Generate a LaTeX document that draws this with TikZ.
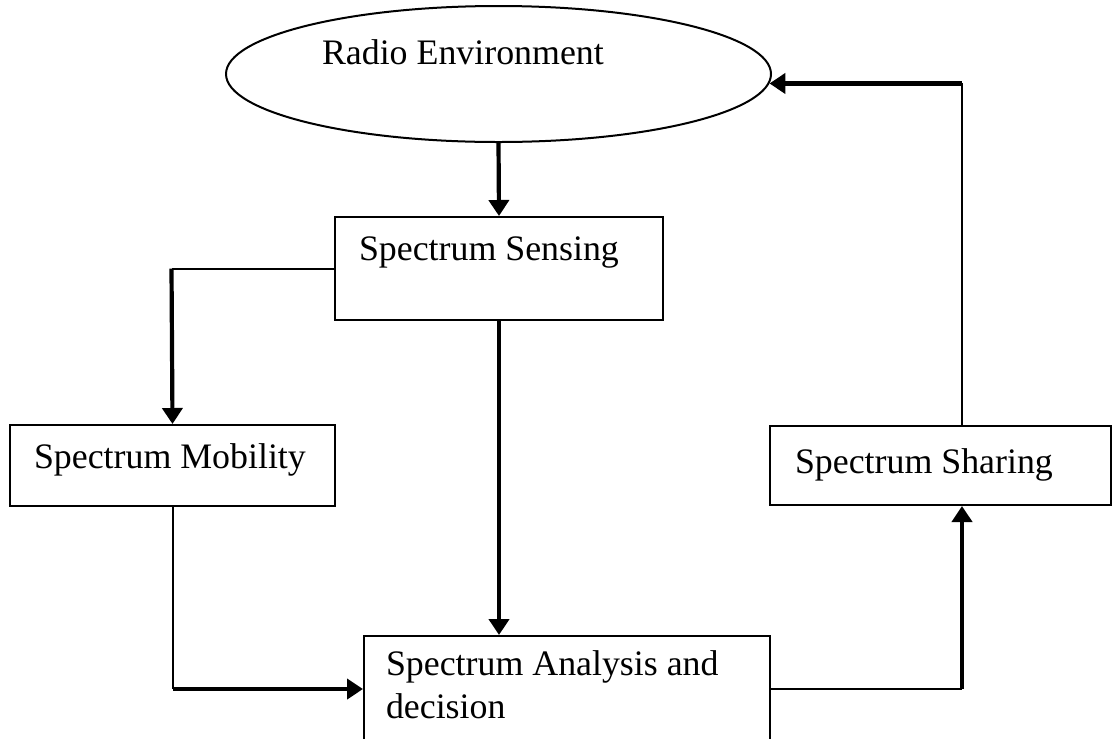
\documentclass[tikz,border=0pt]{standalone}
\usepackage{fontspec}
\setmainfont{Liberation Serif}
\usetikzlibrary{shapes.geometric,arrows.meta}
\tikzset{
  px/.style={x=.1mm,y=-.1mm,line width=.2mm,font=\fontsize{10.2}{12.2}\selectfont},
  box/.style={draw,rectangle,anchor=north west,inner sep=0},
  txt/.style={inner sep=0,anchor=base west},
  fat/.style={line width=.42mm,-{Triangle[length=1.6mm,width=2mm]}}
}

\begin{document}
\begin{tikzpicture}[px]
  \useasboundingbox (0,0) rectangle (1114,738);
  % blocks
  \node[draw,ellipse,minimum width=54.5mm,minimum height=13.6mm,inner sep=0] (re) at (498.5,74) {};
  \node[txt] (retxt) at ([shift={(96,-10)}]re.west) {Radio Environment};
  \node[box,minimum width=32.8mm,minimum height=10.3mm] (ss) at (334,216) {};
  \node[txt] (sstxt) at ([shift={(24,44)}]ss.north west) {Spectrum Sensing};
  \node[box,minimum width=32.5mm,minimum height=8.1mm] (mb) at (9,424) {};
  \node[txt] (mbtxt) at ([shift={(24,44)}]mb.north west) {Spectrum Mobility};
  \node[box,minimum width=34.1mm,minimum height=7.9mm] (sh) at (769,425) {};
  \node[txt] (shtxt) at ([shift={(25,48)}]sh.north west) {Spectrum Sharing};
  \node[box,minimum width=40.6mm,minimum height=10.6mm] (an) at (363,635) {};
  \node[txt,align=left] (antxt) at ([shift={(22,83)}]an.north west) {Spectrum Analysis and\\decision};
  % links
  \draw[fat] (re.south) -- (ss.north);
  \draw (ss.west) -- ++(-162.5,0) coordinate (mbtop);
  \draw[fat] (mbtop) -- (mb.north);
  \draw (mb.south) -- (mb.south |- an.west) coordinate (mbbot);
  \draw[fat] (mbbot) -- (an.west);
  \draw[fat] (ss.south) -- (ss.south |- an.north);
  \draw (an.east) -- ++(191,0) coordinate (anr);
  \draw[fat] (anr) -- (anr |- sh.south);
  \draw (sh.north -| anr) -- (anr |- re.-2) coordinate (retop);
  \draw[fat] (retop) -- (re.-2);
\end{tikzpicture}
\end{document}
